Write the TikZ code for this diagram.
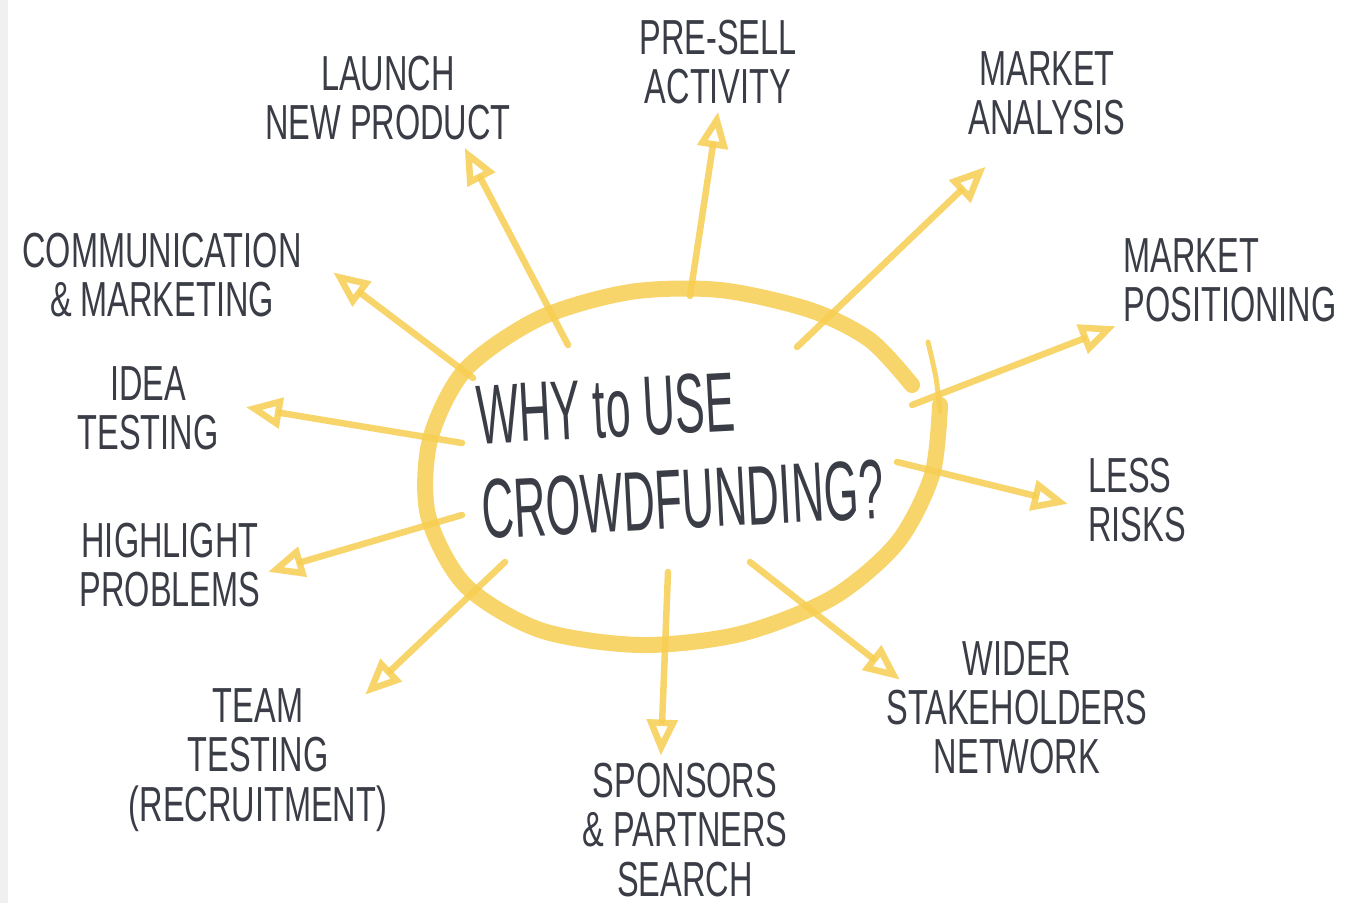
\documentclass[tikz,border=0pt]{standalone}
\usepackage{fontspec}
\newfontfamily\handfont[FakeStretch=0.66]{Liberation Sans}
\newfontfamily\bighand[FakeStretch=0.53]{Liberation Sans}
\usepackage{tikz}
\usetikzlibrary{arrows.meta}
\usetikzlibrary{calc}
\definecolor{marker}{RGB}{247,206,82}
\definecolor{ink}{RGB}{58,61,70}

\begin{document}
\begin{tikzpicture}[x=0.01cm, y=-0.01cm,
  hand/.style={font=\handfont\fontsize{14}{14}\selectfont, text=ink, align=center, inner sep=2pt},
  spoke/.style={draw=marker, draw opacity=0.85, line width=0.065cm, line cap=round, line join=round,
    -{Triangle[open, length=0.36cm, width=0.3cm]}},
  ring/.style={draw=marker, draw opacity=0.85, line cap=round, line join=round}]
\useasboundingbox (0,0) rectangle (1358,903);
\fill[white] (0,0) rectangle (1358,903);
\fill[black!6] (0,0) rectangle (8,903);

% the ring round the question
\draw[ring, line width=0.05cm] plot[smooth] coordinates {(928,342) (936,378) (940,412)};
\draw[ring, line width=0.16cm] plot[smooth] coordinates {(940,405) (932,475) (897,543) (832,598)
  (740,634) (640,645) (540,630) (465,585) (428,515) (430,440) (465,370) (540,318) (630,292)
  (720,290) (810,310) (870,340) (912,385)};

\node[font=\bighand\fontsize{24}{27}\selectfont, text=ink, align=left, rotate=3] (why) at (680,452)
  {WHY to USE\\CROWDFUNDING?};

% answers
\node[hand] (launch) at (388,98) {LAUNCH\\NEW PRODUCT};
\node[hand] (presell) at (718,62) {PRE-SELL\\ACTIVITY};
\node[hand] (analysis) at (1047,93) {MARKET\\ANALYSIS};
\node[hand, align=left] (position) at (1230,280) {MARKET\\POSITIONING};
\node[hand, align=left] (risks) at (1137,500) {LESS\\RISKS};
\node[hand] (wider) at (1017,708) {WIDER\\STAKEHOLDERS\\NETWORK};
\node[hand] (sponsors) at (685,830) {SPONSORS\\\& PARTNERS\\SEARCH};
\node[hand] (team) at (258,760) {TEAM\\TESTING\\(RECRUITMENT)};
\node[hand] (highlight) at (170,565) {HIGHLIGHT\\PROBLEMS};
\node[hand] (idea) at (148,408) {IDEA\\TESTING};
\node[hand] (comm) at (162,275) {COMMUNICATION\\\& MARKETING};

% where the arrows leave the ring
\coordinate (s-launch) at (568,345);
\coordinate (s-presell) at (690,296);
\coordinate (s-analysis) at (797,347);
\coordinate (s-position) at (912,405);
\coordinate (s-risks) at (897,462);
\coordinate (s-wider) at (750,562);
\coordinate (s-sponsors) at (668,572);
\coordinate (s-team) at (505,562);
\coordinate (s-highlight) at (462,515);
\coordinate (s-idea) at (462,443);
\coordinate (s-comm) at (473,378);

\draw[spoke] (s-launch) -- (launch.-33);
\draw[spoke] (s-presell) -- (presell.south);
\draw[spoke, shorten >=0.35cm] (s-analysis) -- (analysis.-126);
\draw[spoke] (s-position) -- (position.-158);
\draw[spoke, shorten >=0.13cm] (s-risks) -- (risks.187);
\draw[spoke, shorten >=-0.27cm] (s-wider) -- (wider.162);
\draw[spoke] (s-sponsors) -- (sponsors.108);
\draw[spoke, shorten >=-0.2cm] (s-team) -- (team.33);
\draw[spoke] (s-highlight) -- (highlight.-4);
\draw[spoke, shorten >=0.2cm] (s-idea) -- (idea.3);
\draw[spoke, shorten >=0.3cm] (s-comm) -- (comm.8);
\end{tikzpicture}
\end{document}
